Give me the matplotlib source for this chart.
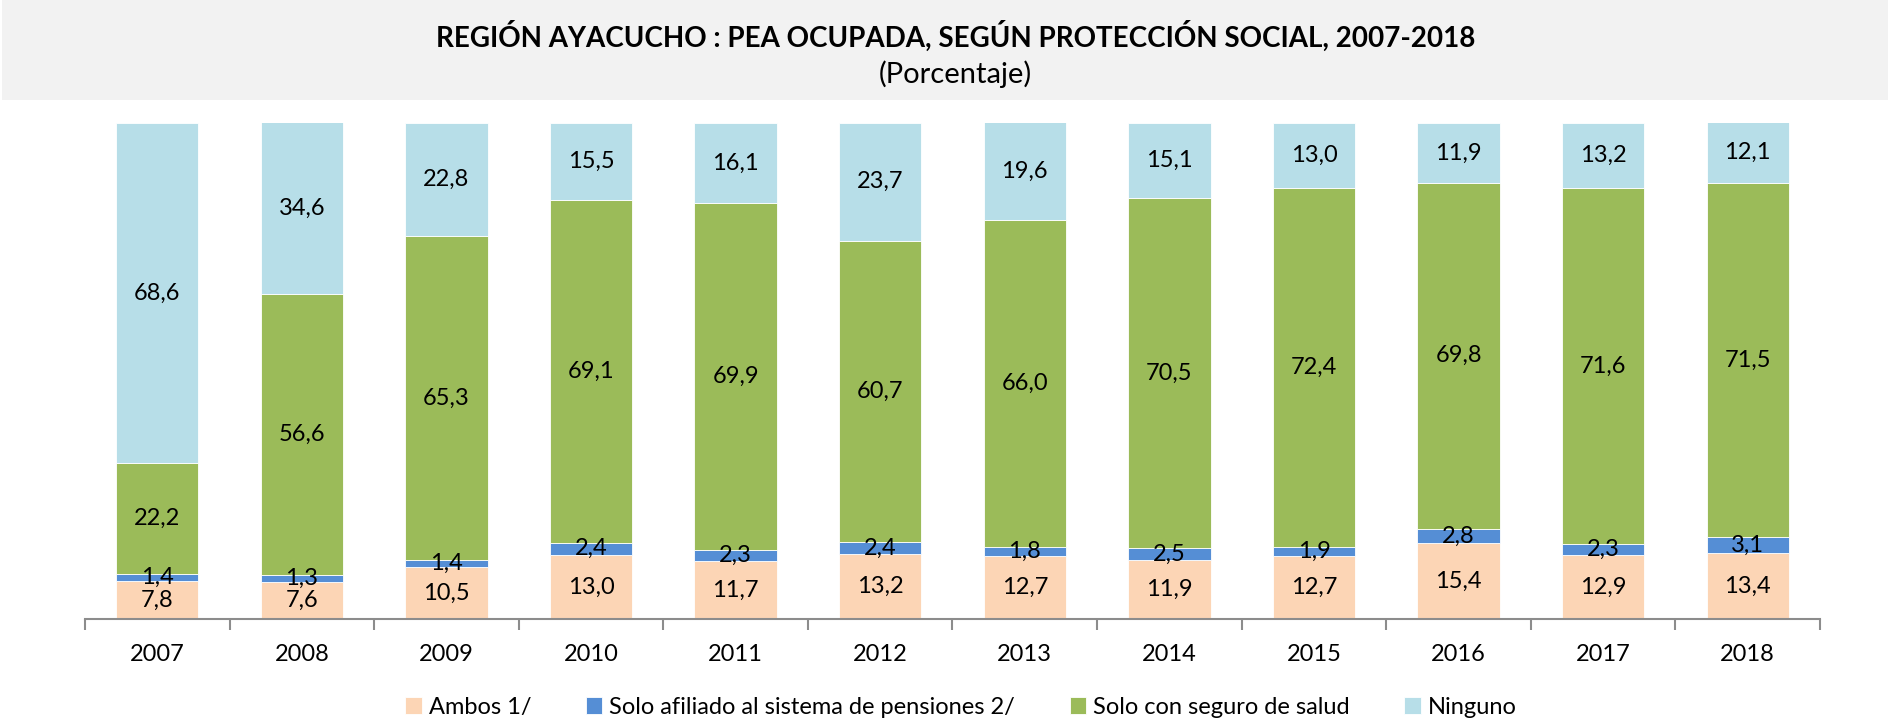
import matplotlib

matplotlib.use("Agg")

import matplotlib.pyplot as plt
import numpy as np
from matplotlib.patches import Rectangle

plt.rcParams["font.family"] = ["Lato", "DejaVu Sans"]

YEARS = ["2007", "2008", "2009", "2010", "2011", "2012",
         "2013", "2014", "2015", "2016", "2017", "2018"]
AMBOS = [7.8, 7.6, 10.5, 13.0, 11.7, 13.2, 12.7, 11.9, 12.7, 15.4, 12.9, 13.4]
PENSIONES = [1.4, 1.3, 1.4, 2.4, 2.3, 2.4, 1.8, 2.5, 1.9, 2.8, 2.3, 3.1]
SALUD = [22.2, 56.6, 65.3, 69.1, 69.9, 60.7, 66.0, 70.5, 72.4, 69.8, 71.6, 71.5]
NINGUNO = [68.6, 34.6, 22.8, 15.5, 16.1, 23.7, 19.6, 15.1, 13.0, 11.9, 13.2, 12.1]

SERIES = [
    ("Ambos 1/", AMBOS, "#FCD5B5"),
    ("Solo afiliado al sistema de pensiones 2/", PENSIONES, "#558ED5"),
    ("Solo con seguro de salud", SALUD, "#9BBB59"),
    ("Ninguno", NINGUNO, "#B7DEE8"),
]

fig = plt.figure(figsize=(18.88, 7.23), dpi=100)

# gray title band
fig.patches.append(Rectangle((0.001, 0.861), 0.999, 0.139, transform=fig.transFigure,
                             facecolor="#F2F2F2", edgecolor="none", zorder=0))
fig.text(0.506, 0.950, "REGIÓN AYACUCHO : PEA OCUPADA, SEGÚN PROTECCIÓN SOCIAL, 2007-2018",
         ha="center", va="center", fontsize=20, fontweight="bold")
fig.text(0.506, 0.898, "(Porcentaje)", ha="center", va="center", fontsize=21)

ax = fig.add_axes([0.045, 0.1434, 0.919, 0.6865])
x = np.arange(len(YEARS))
bottom = np.zeros(len(YEARS))
for name, values, color in SERIES:
    vals = np.array(values)
    ax.bar(x, vals, 0.57, bottom=bottom, color=color, edgecolor="white",
           linewidth=0.6, label=name)
    for xi, b, v in zip(x, bottom, vals):
        ax.text(xi, b + v / 2, f"{v:.1f}".replace(".", ","), ha="center",
                va="center", fontsize=17)
    bottom += vals

ax.set_xlim(-0.5, len(YEARS) - 0.5)
ax.set_ylim(0, 100)
ax.set_yticks([])
for side in ("left", "right", "top"):
    ax.spines[side].set_visible(False)
ax.spines["bottom"].set_color("#8C8C8C")
ax.spines["bottom"].set_linewidth(1.5)
ax.set_xticks(np.arange(len(YEARS) + 1) - 0.5, minor=False)
ax.set_xticklabels([])
ax.tick_params(axis="x", length=8, width=1.5, color="#8C8C8C")
ax.set_xticks(x, minor=True)
ax.set_xticklabels(YEARS, minor=True, fontsize=17)
ax.tick_params(axis="x", which="minor", length=0, pad=18)

fig.legend(loc="center", bbox_to_anchor=(0.509, 0.022), ncol=4, frameon=False,
           fontsize=17, handlelength=0.7, handleheight=0.7, handletextpad=0.3,
           columnspacing=2.3)

fig.savefig("out.png", dpi=100)
